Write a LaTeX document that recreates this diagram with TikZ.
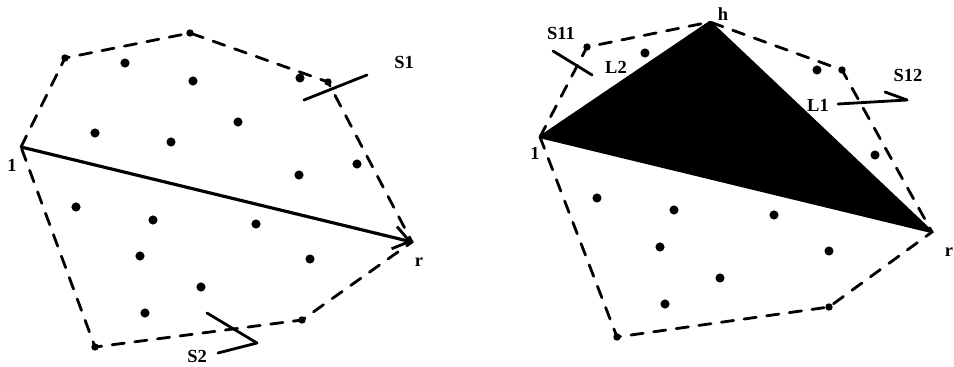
\documentclass[tikz,border=0pt]{standalone}
\usepackage{fontspec}
\setmainfont{Liberation Serif}
\usetikzlibrary{arrows.meta}
\tikzset{
  hull/.style={line width=1.6pt, dash pattern=on 7pt off 6pt, line cap=round},
  pt/.style={circle, fill=black, inner sep=0pt, minimum size=5.2pt},
  vx/.style={circle, fill=black, inner sep=0pt, minimum size=4.2pt},
  lbl/.style={font=\fontsize{10.5}{12}\selectfont\bfseries, inner sep=0pt},
  tickline/.style={line width=1.6pt, line cap=round, line join=round},
}
\begin{document}
\begin{tikzpicture}[x=0.02cm, y=-0.02cm]
\useasboundingbox (0,0) rectangle (954,367);
% ---------- left figure ----------
\coordinate (L1) at (21,147);
\node[vx] (LA) at (65,58) {};
\node[vx] (LB) at (190,33) {};
\node[vx] (LC) at (328,82) {};
\coordinate (Lr) at (412,242);
\node[vx] (LD) at (302,320) {};
\node[vx] (LE) at (95,347) {};
\draw[hull] (L1) -- (LA.center) -- (LB.center) -- (LC.center) -- (Lr) -- (LD.center) -- (LE.center) -- cycle;
\draw[line width=1.8pt, -{Straight Barb[length=9pt,width=13pt,line width=1.6pt]}] (L1) -- (Lr);
\foreach \n/\p in {a/{125,63}, b/{193,81}, c/{300,78}, d/{238,122}, e/{95,133}, f/{171,142},
  g/{357,164}, h/{299,175}, i/{76,207}, j/{153,220}, k/{256,224}, l/{140,256}, m/{310,259},
  n/{201,287}, o/{145,313}}
  \node[pt] (ld\n) at (\p) {};
\node[lbl] (l1) at (12,165) {1};
\node[lbl] (lr) at (419,262) {r};
\node[lbl] (s1) at (404,62) {S1};
\coordinate (s1a) at (304,100);
\coordinate (s1b) at (367,75);
\draw[tickline] (s1a) -- (s1b);
\node[lbl] (s2) at (197,356) {S2};
\coordinate (s2a) at (207,313);
\coordinate (s2b) at (257,343);
\coordinate (s2c) at (218,353);
\draw[tickline] (s2a) -- (s2b) -- (s2c);
% ---------- right figure ----------
\coordinate (R1) at (540,137);
\node[vx] (RA) at (587,47) {};
\coordinate (RT) at (710,22);
\node[vx] (RB) at (842,70) {};
\coordinate (Rr) at (932,232);
\node[vx] (RC) at (829,307) {};
\node[vx] (RD) at (617,337) {};
\draw[hull] (R1) -- (RA.center) -- (RT) -- (RB.center) -- (Rr) -- (RC.center) -- (RD.center) -- cycle;
\fill[black] (R1) -- (RT) -- (Rr) -- cycle;
\draw[line width=1.4pt, line join=round] (R1) -- (RT) -- (Rr) -- cycle;
\foreach \n/\p in {a/{645,53}, b/{817,70}, c/{875,155}, d/{597,198}, e/{674,210}, f/{774,215},
  g/{660,247}, h/{829,251}, i/{720,278}, j/{665,304}}
  \node[pt] (rd\n) at (\p) {};
\node[lbl] (r1) at (535,153) {1};
\node[lbl] (rr) at (949,252) {r};
\node[lbl] (rh) at (723,14) {h};
\node[lbl] (s11) at (561,33) {S11};
\node[lbl] (l2) at (616,67) {L2};
\node[lbl] (s12) at (908,75) {S12};
\node[lbl] (l1b) at (818,105) {L1};
\coordinate (s11a) at (553,51);
\coordinate (s11b) at (592,75);
\draw[tickline] (s11a) -- (s11b);
\coordinate (s12a) at (838,104);
\coordinate (s12b) at (907,100);
\coordinate (s12h) at (885,92);
\draw[tickline] (s12a) -- (s12b);
\draw[tickline] (s12h) -- (s12b);
\end{tikzpicture}
\end{document}
